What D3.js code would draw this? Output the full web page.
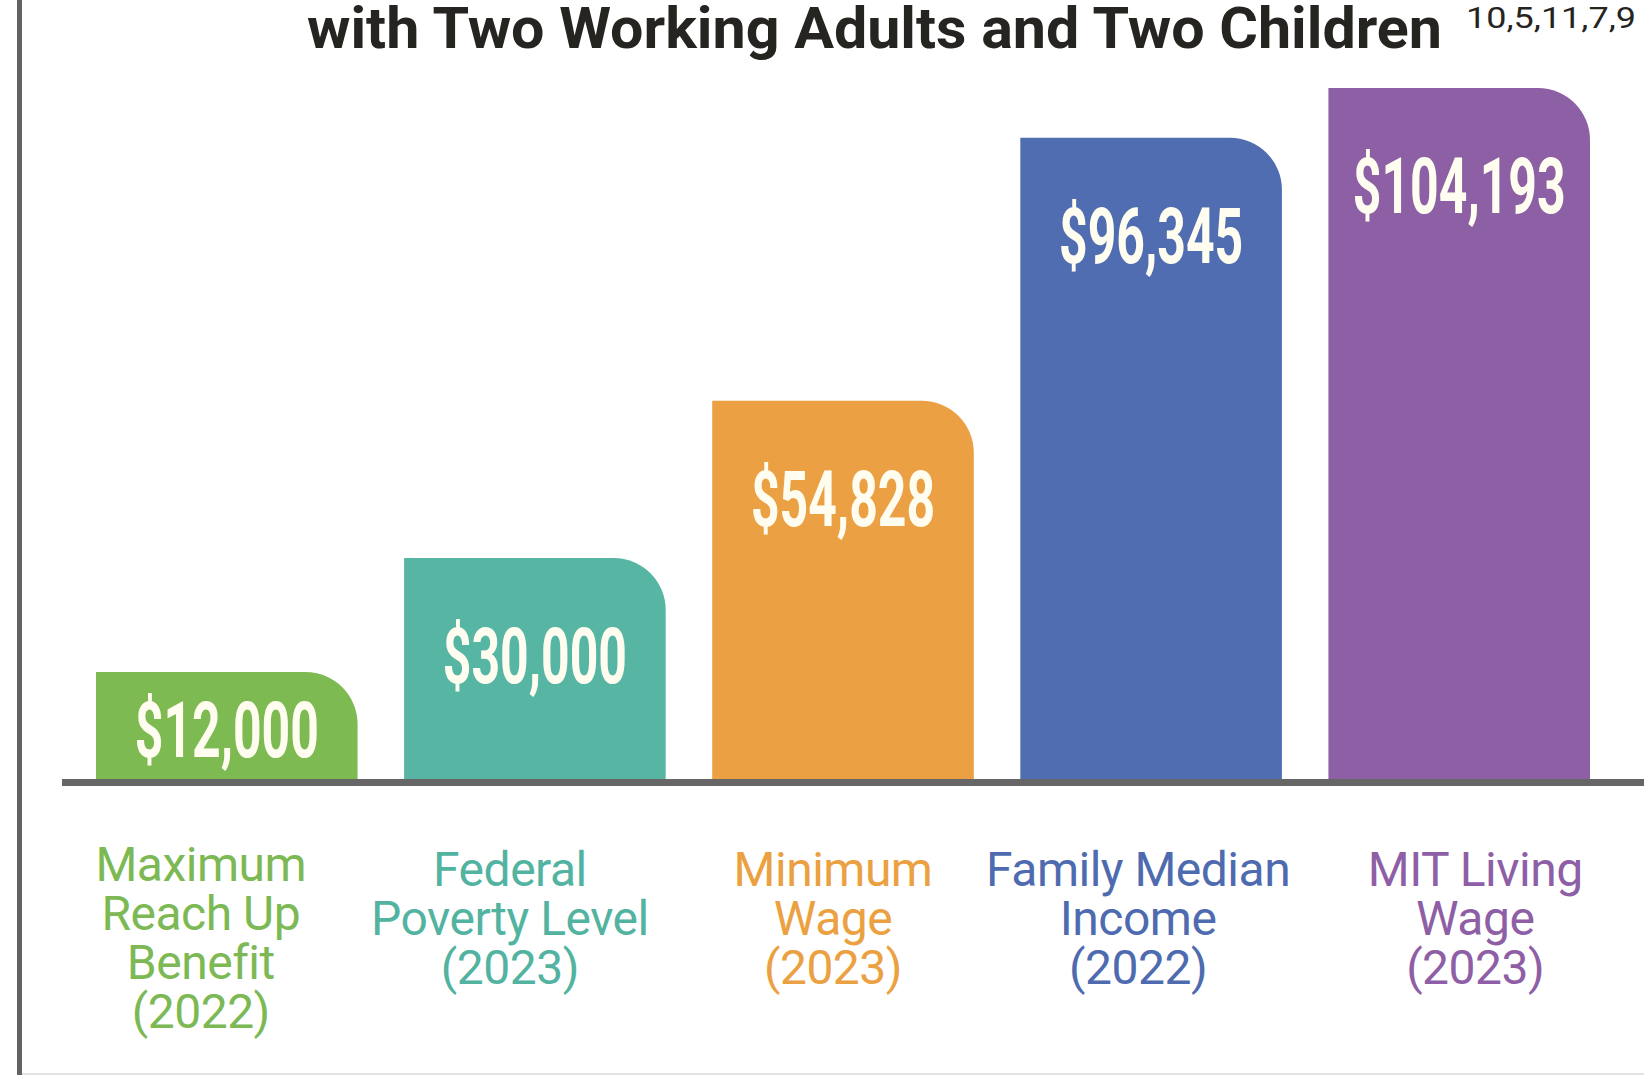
<!DOCTYPE html>
<html>
<head>
<meta charset="utf-8">
<script src="https://cdn.jsdelivr.net/npm/d3@7"></script>
<style>
  body { margin: 0; background: #fff; }
  svg { display: block; }
</style>
</head>
<body>
<div id="chart"></div>
<script>
// Données du graphique
const categories = ["Maximum Reach Up Benefit (2022)", "Federal Poverty Level (2023)",
    "Minimum Wage (2023)", "Family Median Income (2022)", "MIT Living Wage (2023)"];
const labelLines = [
    ["Maximum", "Reach Up", "Benefit", "(2022)"],
    ["Federal", "Poverty Level", "(2023)"],
    ["Minimum", "Wage", "(2023)"],
    ["Family Median", "Income", "(2022)"],
    ["MIT Living", "Wage", "(2023)"]
];
const values = [12000, 30000, 54828, 96345, 104193];
const titleText = "with Two Working Adults and Two Children";
const sourceRefs = "10,5,11,7,9";

// Couleurs
const barColors = ["#7dba52", "#56b5a3", "#eba043", "#4f6db0", "#8d5fa5"];
const textColors = ["#7cb955", "#52b3a1", "#eba141", "#4e6bb0", "#8e5fa6"];
// petit décalage horizontal des libellés sous les barres
const labelShift = [-26, -25, -10, -13, 16];

const width = 1644, height = 1075;
const baseY = 781;

const svg = d3.select("#chart").append("svg")
    .attr("width", width)
    .attr("height", height);

const x = d3.scaleBand()
    .domain(categories)
    .range([96, 1590])
    .paddingInner(0.151)
    .paddingOuter(0);

const y = d3.scaleLinear()
    .domain([-5200, 104193])
    .range([baseY, 88]);

const fmt = d3.format("$,");
const radius = 52;

// barres avec coin supérieur droit arrondi
function barPath(d, i) {
    const x0 = x(categories[i]), w = x.bandwidth();
    const top = y(d);
    const r = Math.min(radius, baseY - top);
    return "M" + x0 + "," + baseY +
        "L" + x0 + "," + top +
        "L" + (x0 + w - r) + "," + top +
        "A" + r + "," + r + " 0 0 1 " + (x0 + w) + "," + (top + r) +
        "L" + (x0 + w) + "," + baseY + "Z";
}

svg.selectAll("path.bar").data(values).enter()
    .append("path")
    .attr("class", "bar")
    .attr("d", barPath)
    .attr("fill", (d, i) => barColors[i]);

// ligne de base
svg.append("rect")
    .attr("x", 62)
    .attr("y", 779)
    .attr("width", width - 62)
    .attr("height", 7)
    .attr("fill", "#666666");

// ligne verticale à gauche
svg.append("rect")
    .attr("x", 17)
    .attr("y", 0)
    .attr("width", 5)
    .attr("height", height)
    .attr("fill", "#636363");

// trait clair en bas
svg.append("rect")
    .attr("x", 22)
    .attr("y", 1073)
    .attr("width", width - 22)
    .attr("height", 2)
    .attr("fill", "#e3e3e1");

// montants dans les barres
svg.selectAll("text.value").data(values).enter()
    .append("text")
    .attr("class", "value")
    .attr("transform", (d, i) => {
        const cx = x(categories[i]) + x.bandwidth() / 2;
        const ty = Math.min(y(d) + 125, baseY - 24);
        return "translate(" + cx + "," + ty + ") scale(0.64,1)";
    })
    .attr("text-anchor", "middle")
    .style("font-family", "Roboto, 'Liberation Sans', sans-serif")
    .style("font-weight", "700")
    .style("font-size", "78px")
    .attr("fill", "#fffdf0")
    .text(d => fmt(d));

// libellés des catégories
const labels = svg.selectAll("text.cat").data(labelLines).enter()
    .append("text")
    .attr("class", "cat")
    .attr("text-anchor", "middle")
    .style("font-family", "Roboto, 'Liberation Sans', sans-serif")
    .style("font-size", "48px")
    .style("letter-spacing", "-0.5px")
    .attr("fill", (d, i) => textColors[i]);

labels.each(function(lines, i) {
    const cx = x(categories[i]) + x.bandwidth() / 2 + labelShift[i];
    const y0 = lines.length > 3 ? 881 : 886;
    d3.select(this).selectAll("tspan").data(lines).enter()
        .append("tspan")
        .attr("x", cx)
        .attr("y", (l, j) => y0 + j * 49)
        .text(l => l);
});

// titre (première ligne coupée en haut de l'image)
svg.append("text")
    .attr("x", 307)
    .attr("y", 48)
    .attr("textLength", 1135)
    .attr("lengthAdjust", "spacingAndGlyphs")
    .style("font-family", "Roboto, 'Liberation Sans', sans-serif")
    .style("font-weight", "700")
    .style("font-size", "58px")
    .attr("fill", "#262420")
    .text(titleText);

svg.append("text")
    .attr("x", 1466)
    .attr("y", 28)
    .attr("textLength", 170)
    .attr("lengthAdjust", "spacingAndGlyphs")
    .style("font-family", "Roboto, 'Liberation Sans', sans-serif")
    .style("font-size", "30px")
    .attr("fill", "#262420")
    .text(sourceRefs);
</script>
</body>
</html>
